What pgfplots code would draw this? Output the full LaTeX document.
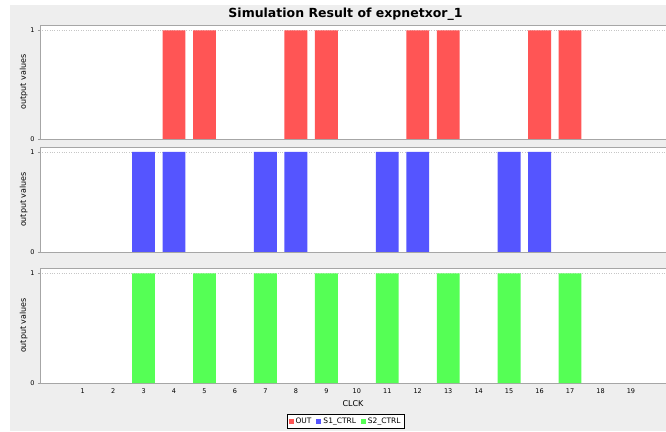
\documentclass[border=0pt]{standalone}
\usepackage{pgfplots}
\pgfplotsset{compat=1.18}
\usepackage{fontspec}
\setmainfont{DejaVu Sans}
\definecolor{bg}{RGB}{238,238,238}
\definecolor{outred}{RGB}{255,85,85}
\definecolor{s1blue}{RGB}{85,85,255}
\definecolor{s2green}{RGB}{85,255,85}
\pgfplotsset{
  panel/.style={
    scale only axis, width=626pt, anchor=south west,
    xmin=-0.4, xmax=20.15, ymin=0, ymax=1.05,
    ytick={0,1}, xtick={1,...,19},
    axis background/.style={fill=white},
    axis line style={gray!70},
    ymajorgrids, grid style={dotted, gray!45},
    tick label style={font=\fontsize{6.5}{7}\selectfont},
    /pgf/number format/assume math mode=true,
    xtick style={draw=none},
    ytick style={gray!80},
    tick align=outside, major tick length=2pt,
    ylabel={output values}, ylabel shift=-4pt,
    ylabel style={font=\fontsize{8}{9}\selectfont},
    ybar, bar width=0.75, bar shift=0pt,
    every axis plot/.append style={draw=none},
  }
}
\begin{document}
\begin{tikzpicture}[x=1pt,y=1pt]
\useasboundingbox (0,0) rectangle (666,431);
\fill[white] (0,0) rectangle (666,431);
\fill[bg] (10,0) rectangle (666,426);
\node[font=\bfseries\fontsize{12.5}{14}\selectfont] at (345.5,417) {Simulation Result of expnetxor\_1};
\begin{axis}[panel, at={(40pt,292pt)}, height=114pt, xticklabels={}]
\addplot[fill=outred] coordinates {(4,1) (5,1) (8,1) (9,1) (12,1) (13,1) (16,1) (17,1)};
\end{axis}
\begin{axis}[panel, at={(40pt,179pt)}, height=105pt, xticklabels={}]
\addplot[fill=s1blue] coordinates {(3,1) (4,1) (7,1) (8,1) (11,1) (12,1) (15,1) (16,1)};
\end{axis}
\begin{axis}[panel, at={(40pt,48pt)}, height=115pt,
  xlabel={CLCK}, xlabel style={font=\fontsize{8}{9}\selectfont},
  legend columns=3,
  legend style={at={(0.488,-0.27)}, anchor=north, draw=black, font=\fontsize{7.5}{8}\selectfont,
    inner sep=1.5pt, row sep=0pt, /tikz/every even column/.append style={column sep=3pt}},
  legend cell align=left]
\addlegendimage{legend image code/.code={\fill[outred] (0pt,-2.5pt) rectangle (5pt,2.5pt);}}
\addlegendentry{OUT}
\addlegendimage{legend image code/.code={\fill[s1blue] (0pt,-2.5pt) rectangle (5pt,2.5pt);}}
\addlegendentry{S1\_CTRL}
\addplot[fill=s2green, legend image code/.code={\fill[s2green] (0pt,-2.5pt) rectangle (5pt,2.5pt);}] coordinates {(3,1) (5,1) (7,1) (9,1) (11,1) (13,1) (15,1) (17,1)};
\addlegendentry{S2\_CTRL}
\end{axis}
\end{tikzpicture}
\end{document}
